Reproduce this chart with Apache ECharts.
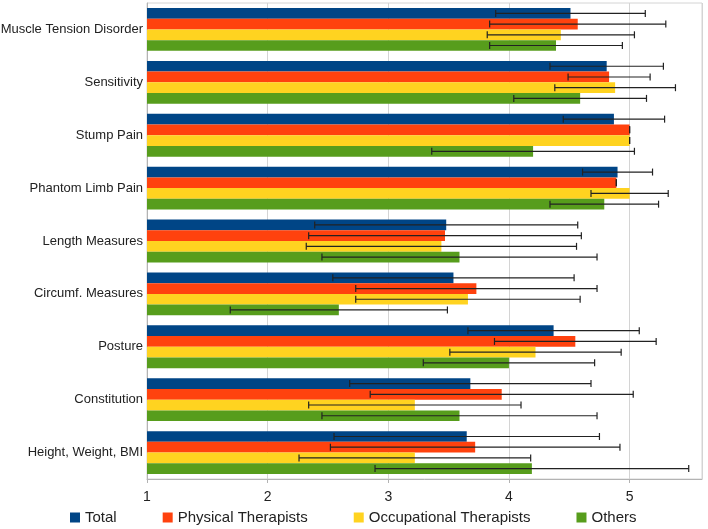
<!DOCTYPE html>
<html>
<head>
<meta charset="utf-8">
<script src="https://cdn.jsdelivr.net/npm/echarts@6/dist/echarts.min.js"></script>
<style>
  html, body { margin: 0; padding: 0; background: #fff; }
  #chart { width: 708px; height: 529px; }
</style>
</head>
<body>
<div id="chart"></div>
<script>
  var categories = ['Muscle Tension Disorder', 'Sensitivity', 'Stump Pain', 'Phantom Limb Pain',
    'Length Measures', 'Circumf. Measures', 'Posture', 'Constitution', 'Height, Weight, BMI'];
  var seriesNames = ['Total', 'Physical Therapists', 'Occupational Therapists', 'Others'];

  // means
  var total = [4.51, 4.81, 4.87, 4.90, 3.48, 3.54, 4.37, 3.68, 3.65];
  var physical = [4.57, 4.83, 5.00, 4.89, 3.47, 3.73, 4.55, 3.94, 3.72];
  var occupational = [4.43, 4.88, 5.00, 5.00, 3.44, 3.66, 4.22, 3.22, 3.22];
  var others = [4.39, 4.59, 4.20, 4.79, 3.59, 2.59, 4.00, 3.59, 4.19];

  // standard deviations (error bars)
  var totalSd = [0.62, 0.47, 0.42, 0.29, 1.09, 1.00, 0.71, 1.00, 1.10];
  var physicalSd = [0.73, 0.34, 0, 0, 1.13, 1.00, 0.67, 1.09, 1.20];
  var occupationalSd = [0.61, 0.50, 0, 0.32, 1.12, 0.93, 0.71, 0.88, 0.96];
  var othersSd = [0.55, 0.55, 0.84, 0.45, 1.14, 0.90, 0.71, 1.14, 1.30];

  var colors = ['#004586', '#ff420e', '#ffd320', '#579d1c'];
  var means = [total, physical, occupational, others];
  var sds = [totalSd, physicalSd, occupationalSd, othersSd];
  var gapRatio = 0.19;

  var errData = [];
  means.forEach(function (arr, s) {
    arr.forEach(function (v, i) {
      errData.push([i, v - sds[s][i], v + sds[s][i], s]);
    });
  });

  var myChart = echarts.init(document.getElementById('chart'));

  var series = seriesNames.map(function (name, s) {
    return {
      name: name,
      type: 'bar',
      data: means[s],
      barGap: 0,
      barCategoryGap: (gapRatio * 100) + '%',
      itemStyle: { color: colors[s] }
    };
  });

  // error bars drawn on top of the grouped bars
  series.push({
    type: 'custom',
    name: 'err',
    z: 10,
    encode: { x: [1, 2], y: 0 },
    data: errData,
    renderItem: function (params, api) {
      var cat = api.value(0);
      var lo = api.coord([api.value(1), cat]);
      var hi = api.coord([api.value(2), cat]);
      var s = api.value(3);
      var band = api.size([0, 1])[1];
      var bw = band * (1 - gapRatio) / 4;
      var y = lo[1] - band * (1 - gapRatio) / 2 + bw * (s + 0.5);
      var cap = 3.5;
      var style = { stroke: '#222', lineWidth: 1.2 };
      return {
        type: 'group',
        children: [
          { type: 'line', shape: { x1: lo[0], y1: y, x2: hi[0], y2: y }, style: style },
          { type: 'line', shape: { x1: lo[0], y1: y - cap, x2: lo[0], y2: y + cap }, style: style },
          { type: 'line', shape: { x1: hi[0], y1: y - cap, x2: hi[0], y2: y + cap }, style: style }
        ]
      };
    }
  });

  myChart.setOption({
    animation: false,
    grid: {
      left: 147,
      right: 6,
      top: 3,
      bottom: 50,
      outerBoundsMode: 'none',
      containLabel: false,
      show: true,
      borderColor: '#d4d4d4',
      borderWidth: 1
    },
    legend: {
      data: seriesNames,
      left: 65,
      top: 505,
      icon: 'rect',
      itemWidth: 10,
      itemHeight: 10,
      itemGap: 46,
      textStyle: { fontSize: 15, color: '#222', fontFamily: 'Liberation Sans' }
    },
    xAxis: {
      type: 'value',
      min: 1,
      max: 5.6,
      interval: 1,
      axisLine: { show: true, lineStyle: { color: '#b3b3b3' } },
      axisTick: { show: true, length: 4, lineStyle: { color: '#b3b3b3' } },
      axisLabel: {
        fontSize: 14, color: '#222', margin: 11, fontFamily: 'Liberation Sans',
        showMaxLabel: false,
        formatter: function (v) { return Math.abs(v - Math.round(v)) < 1e-6 ? v : ''; }
      },
      splitLine: { show: true, lineStyle: { color: '#d4d4d4' } }
    },
    yAxis: {
      type: 'category',
      data: categories,
      inverse: true,
      axisLine: { show: true, lineStyle: { color: '#b3b3b3' } },
      axisTick: { show: false },
      axisLabel: { fontSize: 13, color: '#222', margin: 4, fontFamily: 'Liberation Sans' }
    },
    series: series
  });
</script>
</body>
</html>
